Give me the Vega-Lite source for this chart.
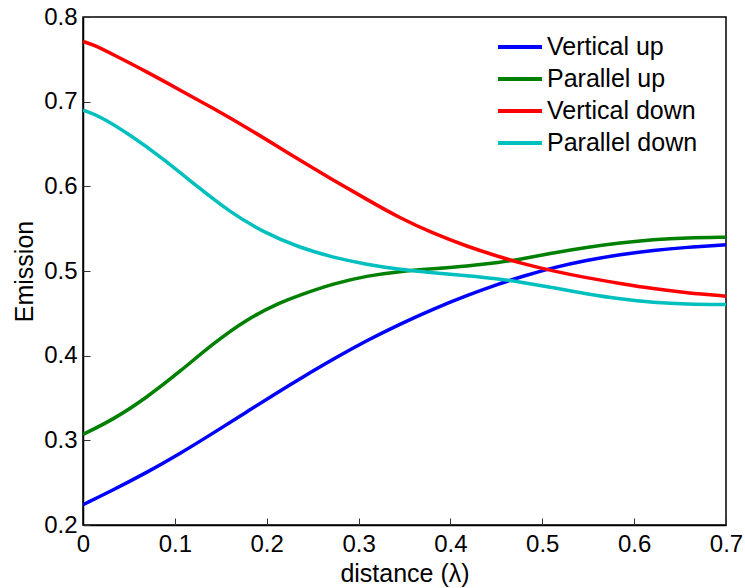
{
  "$schema": "https://vega.github.io/schema/vega-lite/v6.json",
  "width": 643,
  "height": 508,
  "autosize": {"type": "none"},
  "padding": {"left": 83, "top": 17, "right": 19, "bottom": 63},
  "background": "white",
  "config": {
    "view": {"stroke": "black", "strokeWidth": 1.5},
    "font": "Liberation Sans",
    "axis": {
      "labelFont": "Liberation Sans",
      "titleFont": "Liberation Sans",
      "labelFontSize": 24,
      "titleFontSize": 25,
      "titleFontWeight": "normal",
      "labelColor": "black",
      "titleColor": "black",
      "domainColor": "black",
      "domainWidth": 1.5,
      "tickColor": "#333333",
      "tickWidth": 1,
      "grid": false,
      "labelFlush": false,
      "labelOverlap": false
    },
    "legend": {
      "labelFont": "Liberation Sans",
      "labelFontSize": 25,
      "labelColor": "black"
    }
  },
  "datasets": {
    "curves": [
      {"series": "Vertical up", "x": 0.0, "y": 0.224},
      {"series": "Vertical up", "x": 0.033, "y": 0.2415},
      {"series": "Vertical up", "x": 0.069, "y": 0.2617},
      {"series": "Vertical up", "x": 0.106, "y": 0.2846},
      {"series": "Vertical up", "x": 0.142, "y": 0.3087},
      {"series": "Vertical up", "x": 0.178, "y": 0.3335},
      {"series": "Vertical up", "x": 0.215, "y": 0.3587},
      {"series": "Vertical up", "x": 0.236, "y": 0.3726},
      {"series": "Vertical up", "x": 0.273, "y": 0.3963},
      {"series": "Vertical up", "x": 0.309, "y": 0.4179},
      {"series": "Vertical up", "x": 0.345, "y": 0.4373},
      {"series": "Vertical up", "x": 0.381, "y": 0.4549},
      {"series": "Vertical up", "x": 0.418, "y": 0.4712},
      {"series": "Vertical up", "x": 0.454, "y": 0.4852},
      {"series": "Vertical up", "x": 0.476, "y": 0.4929},
      {"series": "Vertical up", "x": 0.512, "y": 0.5041},
      {"series": "Vertical up", "x": 0.548, "y": 0.5127},
      {"series": "Vertical up", "x": 0.585, "y": 0.5194},
      {"series": "Vertical up", "x": 0.621, "y": 0.5244},
      {"series": "Vertical up", "x": 0.657, "y": 0.528},
      {"series": "Vertical up", "x": 0.7, "y": 0.531},
      {"series": "Parallel up", "x": 0.0, "y": 0.307},
      {"series": "Parallel up", "x": 0.033, "y": 0.3246},
      {"series": "Parallel up", "x": 0.069, "y": 0.3502},
      {"series": "Parallel up", "x": 0.106, "y": 0.3817},
      {"series": "Parallel up", "x": 0.142, "y": 0.4145},
      {"series": "Parallel up", "x": 0.178, "y": 0.443},
      {"series": "Parallel up", "x": 0.215, "y": 0.463},
      {"series": "Parallel up", "x": 0.236, "y": 0.4716},
      {"series": "Parallel up", "x": 0.273, "y": 0.4853},
      {"series": "Parallel up", "x": 0.309, "y": 0.4943},
      {"series": "Parallel up", "x": 0.345, "y": 0.4996},
      {"series": "Parallel up", "x": 0.381, "y": 0.5026},
      {"series": "Parallel up", "x": 0.418, "y": 0.5057},
      {"series": "Parallel up", "x": 0.454, "y": 0.5102},
      {"series": "Parallel up", "x": 0.476, "y": 0.5138},
      {"series": "Parallel up", "x": 0.512, "y": 0.5215},
      {"series": "Parallel up", "x": 0.548, "y": 0.5281},
      {"series": "Parallel up", "x": 0.585, "y": 0.5333},
      {"series": "Parallel up", "x": 0.621, "y": 0.5372},
      {"series": "Parallel up", "x": 0.657, "y": 0.5392},
      {"series": "Parallel up", "x": 0.7, "y": 0.54},
      {"series": "Vertical down", "x": 0.0, "y": 0.771},
      {"series": "Vertical down", "x": 0.011, "y": 0.7675},
      {"series": "Vertical down", "x": 0.033, "y": 0.7555},
      {"series": "Vertical down", "x": 0.069, "y": 0.7355},
      {"series": "Vertical down", "x": 0.106, "y": 0.7135},
      {"series": "Vertical down", "x": 0.142, "y": 0.692},
      {"series": "Vertical down", "x": 0.178, "y": 0.6695},
      {"series": "Vertical down", "x": 0.215, "y": 0.645},
      {"series": "Vertical down", "x": 0.236, "y": 0.631},
      {"series": "Vertical down", "x": 0.273, "y": 0.607},
      {"series": "Vertical down", "x": 0.309, "y": 0.5845},
      {"series": "Vertical down", "x": 0.345, "y": 0.5625},
      {"series": "Vertical down", "x": 0.381, "y": 0.5445},
      {"series": "Vertical down", "x": 0.418, "y": 0.529},
      {"series": "Vertical down", "x": 0.454, "y": 0.5165},
      {"series": "Vertical down", "x": 0.476, "y": 0.5095},
      {"series": "Vertical down", "x": 0.512, "y": 0.4998},
      {"series": "Vertical down", "x": 0.548, "y": 0.492},
      {"series": "Vertical down", "x": 0.585, "y": 0.4852},
      {"series": "Vertical down", "x": 0.621, "y": 0.479},
      {"series": "Vertical down", "x": 0.657, "y": 0.4743},
      {"series": "Vertical down", "x": 0.7, "y": 0.4703},
      {"series": "Parallel down", "x": 0.0, "y": 0.69},
      {"series": "Parallel down", "x": 0.0185, "y": 0.683},
      {"series": "Parallel down", "x": 0.051, "y": 0.661},
      {"series": "Parallel down", "x": 0.087, "y": 0.633},
      {"series": "Parallel down", "x": 0.124, "y": 0.6},
      {"series": "Parallel down", "x": 0.16, "y": 0.5695},
      {"series": "Parallel down", "x": 0.196, "y": 0.546},
      {"series": "Parallel down", "x": 0.236, "y": 0.5275},
      {"series": "Parallel down", "x": 0.273, "y": 0.5158},
      {"series": "Parallel down", "x": 0.309, "y": 0.5077},
      {"series": "Parallel down", "x": 0.345, "y": 0.5018},
      {"series": "Parallel down", "x": 0.381, "y": 0.4979},
      {"series": "Parallel down", "x": 0.418, "y": 0.4945},
      {"series": "Parallel down", "x": 0.454, "y": 0.4905},
      {"series": "Parallel down", "x": 0.476, "y": 0.487},
      {"series": "Parallel down", "x": 0.512, "y": 0.4802},
      {"series": "Parallel down", "x": 0.548, "y": 0.4731},
      {"series": "Parallel down", "x": 0.585, "y": 0.4668},
      {"series": "Parallel down", "x": 0.621, "y": 0.4627},
      {"series": "Parallel down", "x": 0.657, "y": 0.4607},
      {"series": "Parallel down", "x": 0.7, "y": 0.4603}
    ]
  },
  "data": {"name": "curves"},
  "layer": [
    {
      "mark": {"type": "line", "strokeWidth": 3.5, "interpolate": "basis", "clip": true},
      "encoding": {
        "x": {
          "field": "x",
          "type": "quantitative",
          "title": "distance (λ)",
          "scale": {"domain": [0, 0.7], "nice": false, "zero": false},
          "axis": {"orient": "bottom", "values": [0, 0.1, 0.2, 0.3, 0.4, 0.5, 0.6, 0.7], "format": "~g", "ticks": false, "labelPadding": 7, "titlePadding": 5}
        },
        "y": {
          "field": "y",
          "type": "quantitative",
          "title": "Emission",
          "scale": {"domain": [0.2, 0.8], "nice": false, "zero": false},
          "axis": {"orient": "left", "values": [0.2, 0.3, 0.4, 0.5, 0.6, 0.7, 0.8], "format": "~g", "ticks": false, "labelPadding": 6, "titlePadding": 6}
        },
        "color": {
          "field": "series",
          "type": "nominal",
          "scale": {
            "domain": ["Vertical up", "Parallel up", "Vertical down", "Parallel down"],
            "range": ["#0000ff", "#008000", "#ff0000", "#00bfbf"]
          },
          "legend": {
            "title": null,
            "orient": "none",
            "legendX": 413,
            "legendY": 14,
            "symbolType": "stroke",
            "symbolSize": 1936,
            "symbolStrokeWidth": 4,
            "labelOffset": 3,
            "clipHeight": 32,
            "rowPadding": 0,
            "padding": 0
          }
        }
      }
    },
    {
      "mark": {"type": "line", "opacity": 0},
      "encoding": {
        "x": {
          "field": "x",
          "type": "quantitative",
          "axis": {"orient": "bottom", "offset": -7, "values": [0, 0.1, 0.2, 0.3, 0.4, 0.5, 0.6, 0.7], "labels": false, "domain": false, "ticks": true, "tickSize": 7, "title": null}
        },
        "y": {
          "field": "y",
          "type": "quantitative",
          "axis": {"orient": "left", "offset": -7, "values": [0.2, 0.3, 0.4, 0.5, 0.6, 0.7, 0.8], "labels": false, "domain": false, "ticks": true, "tickSize": 7, "title": null}
        },
        "detail": {"field": "series"}
      }
    }
  ],
  "resolve": {"axis": {"x": "independent", "y": "independent"}}
}
